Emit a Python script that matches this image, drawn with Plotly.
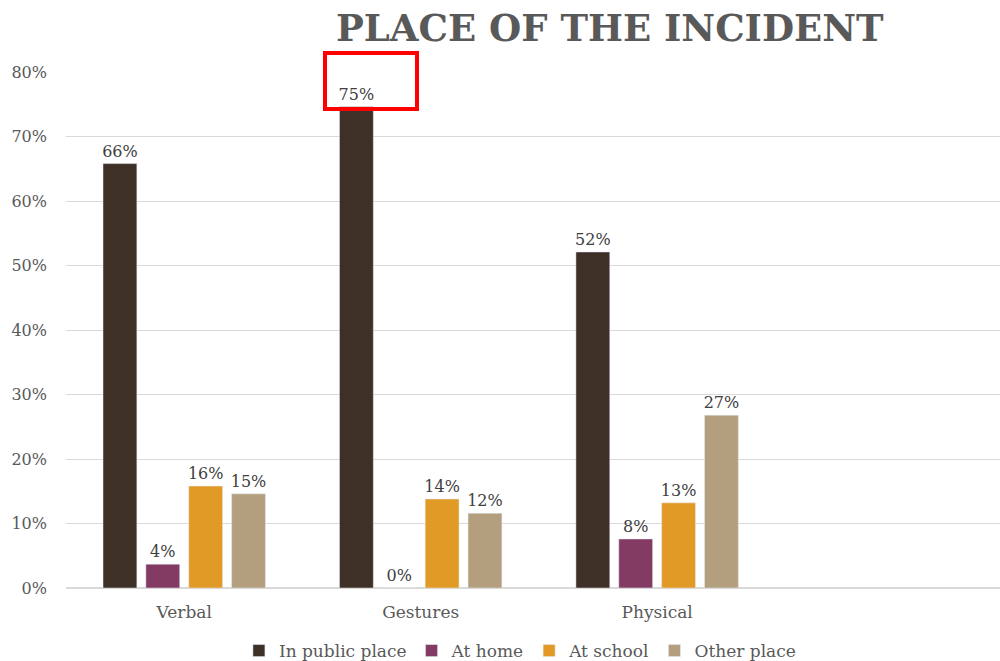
import plotly.graph_objects as go

categories = ["Verbal", "Gestures", "Physical"]
series_names = ["In public place", "At home", "At school", "Other place"]
in_public = [0.658, 0.746, 0.521]
at_home = [0.037, 0.0, 0.076]
at_school = [0.158, 0.138, 0.132]
other_place = [0.146, 0.116, 0.268]
colors = ["#3E3027", "#833A63", "#E29A27", "#B39F7E"]
y_ticks = [0, 0.1, 0.2, 0.3, 0.4, 0.5, 0.6, 0.7, 0.8]

FONT = "DejaVu Serif"
GREY = "#595959"

xpos = list(range(len(categories)))
fig = go.Figure()
for name, vals, col in zip(series_names, [in_public, at_home, at_school, other_place], colors):
    fig.add_trace(go.Bar(
        x=xpos, y=vals, name=name, marker_color=col,
        texttemplate="%{y:.0%}", textposition="outside", constraintext="none",
        textfont=dict(family=FONT, size=16, color="#404040"),
        cliponaxis=False,
    ))

fig.update_layout(
    width=1000, height=661,
    margin=dict(l=66, r=0, t=72, b=73),
    plot_bgcolor="white", paper_bgcolor="white",
    barmode="group", bargap=0.275, bargroupgap=0.21,
    font=dict(family=FONT, size=16, color=GREY),
    showlegend=True,
    legend=dict(orientation="h", x=0.486, xanchor="center",
                yref="container", y=10 / 661, yanchor="middle",
                font=dict(family=FONT, size=17, color=GREY), itemwidth=30,
                traceorder="normal"),
    xaxis=dict(range=[-0.5, 3.45], tickvals=xpos, ticktext=categories,
               showgrid=False, zeroline=False, showline=False, ticks="",
               ticklabelstandoff=12,
               tickfont=dict(family=FONT, size=17, color=GREY)),
    yaxis=dict(range=[0, 0.8], tickvals=y_ticks, tickformat=".0%",
               showgrid=True, gridcolor="#D9D9D9", gridwidth=1,
               zeroline=True, zerolinecolor="#D9D9D9", showline=False, ticks="",
               ticklabelstandoff=18,
               tickfont=dict(family=FONT, size=16, color=GREY)),
)

fig.add_annotation(text="<b>PLACE OF THE INCIDENT</b>", xref="paper", yref="paper",
                   x=(610 - 66) / 934, y=(588 - 28) / 516, xanchor="center", yanchor="middle",
                   showarrow=False, font=dict(family=FONT, size=37, color=GREY))

fig.add_shape(type="rect", xref="paper", yref="paper",
              x0=(325 - 66) / 934, x1=(417 - 66) / 934,
              y0=(588 - 109) / 516, y1=(588 - 53) / 516,
              line=dict(color="#FF0000", width=4), fillcolor="rgba(0,0,0,0)")

fig.write_html("out.html")
